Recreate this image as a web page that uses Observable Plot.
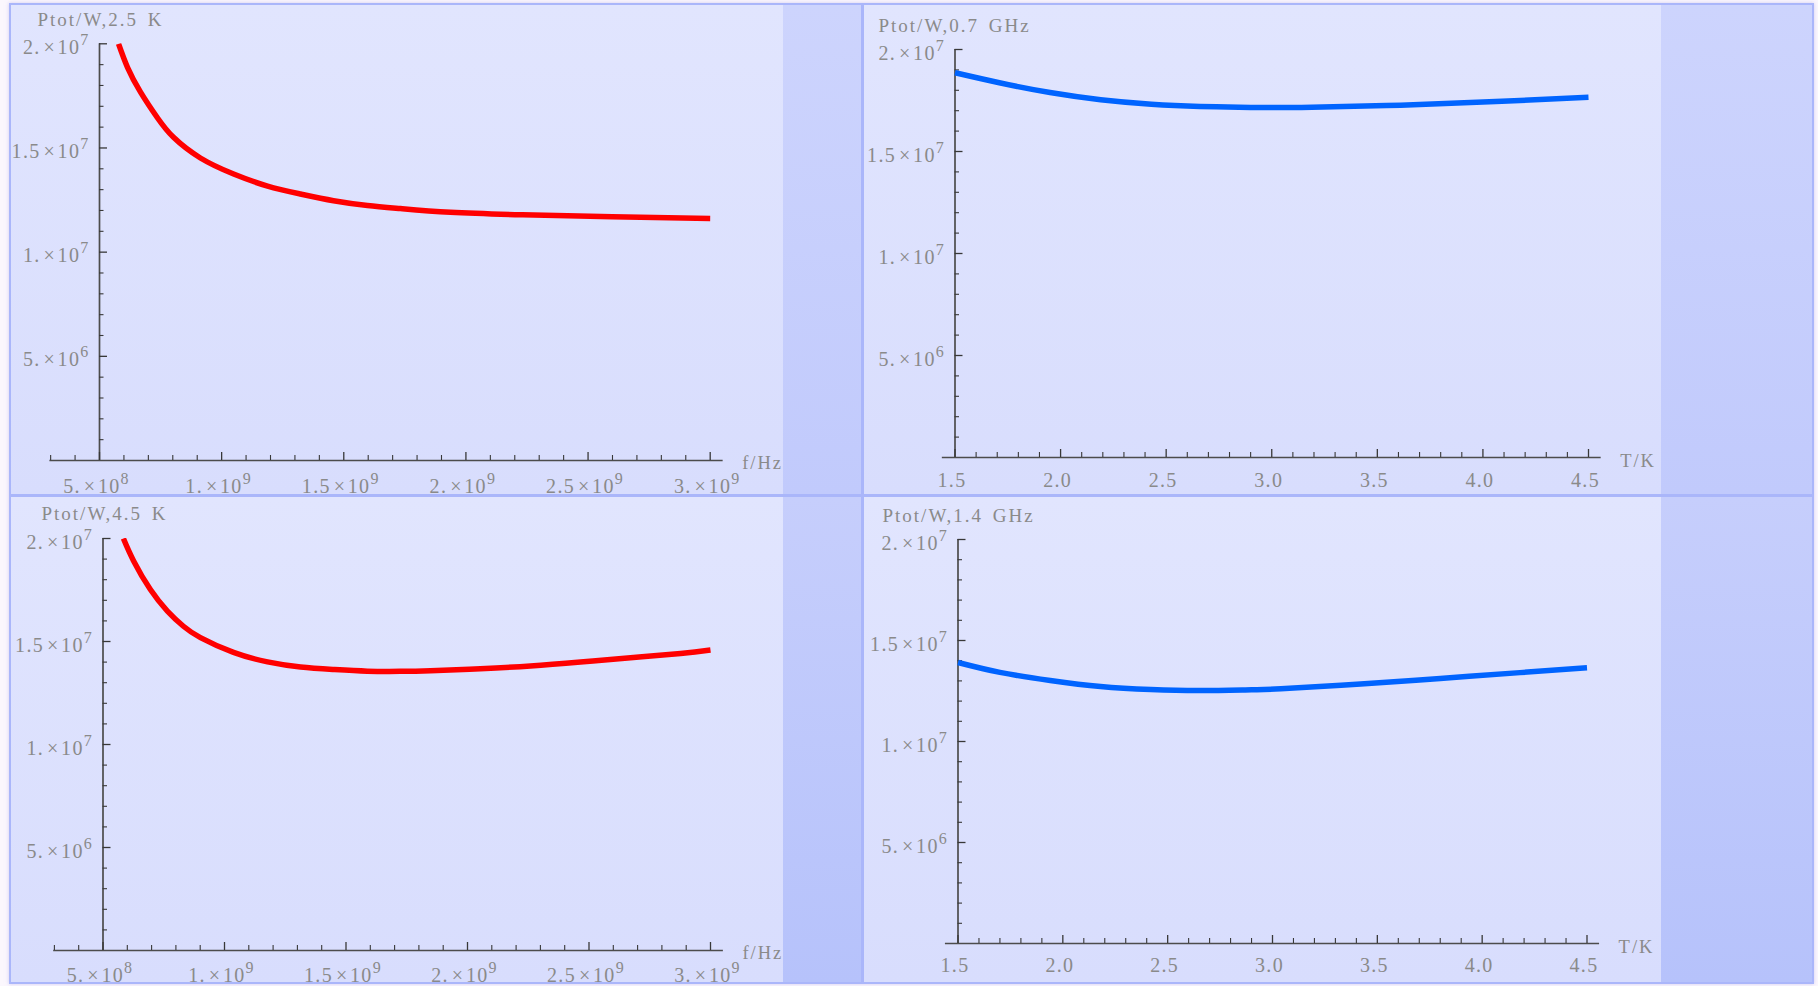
<!DOCTYPE html>
<html>
<head>
<meta charset="utf-8">
<script src="https://cdn.jsdelivr.net/npm/d3@7"></script>
<script src="https://cdn.jsdelivr.net/npm/@observablehq/plot@0.6"></script>
<style>
  html, body { margin: 0; padding: 0; background: #fbf7fd; }
  #page { position: relative; width: 1818px; height: 986px; overflow: hidden; }
  .frame { position: absolute; left: 9px; top: 3px; width: 1805px; height: 981px;
           background: #aab6fa; box-shadow: 0 0 4px rgba(175, 165, 235, 0.55); }
  .cell { position: absolute; }
  .light { background: linear-gradient(#e1e5fe, #d8ddfd); }
  .dark-top { background: linear-gradient(#cdd4fd, #c1cafc); }
  .dark-bottom { background: linear-gradient(#c6cefc, #b6c2fb); }
  .panel { position: absolute; }
  .panel svg { overflow: visible; display: block; }
  .panel text { letter-spacing: 1.3px; }
</style>
</head>
<body>
<div id="page">
  <div class="frame"></div>
  <div class="cell light" style="left:11px;top:5px;width:772px;height:489px"></div>
  <div class="cell dark-top" style="left:783px;top:5px;width:78px;height:489px"></div>
  <div class="cell light" style="left:864px;top:5px;width:797px;height:489px"></div>
  <div class="cell dark-top" style="left:1661px;top:5px;width:151px;height:489px"></div>
  <div class="cell light" style="left:11px;top:497px;width:772px;height:485px"></div>
  <div class="cell dark-bottom" style="left:783px;top:497px;width:78px;height:485px"></div>
  <div class="cell light" style="left:864px;top:497px;width:797px;height:485px"></div>
  <div class="cell dark-bottom" style="left:1661px;top:497px;width:151px;height:485px"></div>
</div>
<script>
// ---------- tick values and labels ----------
const freqTicks = [5e8, 1e9, 1.5e9, 2e9, 2.5e9, 3e9];
const freqTickLabels = ["5.×10^8", "1.×10^9", "1.5×10^9", "2.×10^9", "2.5×10^9", "3.×10^9"];
const tempTicks = [1.5, 2.0, 2.5, 3.0, 3.5, 4.0, 4.5];
const tempTickLabels = ["1.5", "2.0", "2.5", "3.0", "3.5", "4.0", "4.5"];
const powerTicks = [5e6, 1e7, 1.5e7, 2e7];
const powerTickLabels = ["5.×10^6", "1.×10^7", "1.5×10^7", "2.×10^7"];

const panelTitles = ["Ptot/W,2.5 K", "Ptot/W,0.7 GHz", "Ptot/W,4.5 K", "Ptot/W,1.4 GHz"];
const freqAxisName = "f/Hz";
const tempAxisName = "T/K";

// ---------- series ----------
// total power vs frequency at 2.5 K
const freq25K  = [5.78e8, 6.15e8, 6.68e8, 7.37e8, 8.03e8, 9.13e8, 1.049e9, 1.188e9, 1.323e9, 1.458e9, 1.597e9, 1.732e9, 1.937e9, 2.232e9, 2.6e9, 3.0e9];
const power25K = [2.0e7, 1.886e7, 1.768e7, 1.645e7, 1.551e7, 1.452e7, 1.375e7, 1.317e7, 1.279e7, 1.247e7, 1.224e7, 1.209e7, 1.191e7, 1.179e7, 1.1695e7, 1.162e7];

// total power vs frequency at 4.5 K
const freq45K  = [5.84e8, 6.26e8, 6.95e8, 7.65e8, 8.31e8, 9.01e8, 1.037e9, 1.177e9, 1.313e9, 1.449e9, 1.588e9, 1.724e9, 1.848e9, 2.053e9, 2.259e9, 2.465e9, 2.671e9, 2.877e9, 3.0e9];
const power45K = [2.0e7, 1.891e7, 1.752e7, 1.648e7, 1.574e7, 1.519e7, 1.447e7, 1.401e7, 1.376e7, 1.364e7, 1.356e7, 1.355e7, 1.358e7, 1.368e7, 1.381e7, 1.400e7, 1.421e7, 1.442e7, 1.459e7];

// total power vs temperature at 0.7 GHz
const temp07GHz  = [1.5, 1.71, 1.95, 2.19, 2.43, 2.66, 2.9, 3.14, 3.61, 4.09, 4.5];
const power07GHz = [1.886e7, 1.837e7, 1.789e7, 1.754e7, 1.732e7, 1.721e7, 1.716e7, 1.716e7, 1.727e7, 1.746e7, 1.766e7];

// total power vs temperature at 1.4 GHz
const temp14GHz  = [1.5, 1.70, 1.94, 2.18, 2.42, 2.66, 2.90, 3.04, 3.42, 3.80, 4.18, 4.5];
const power14GHz = [1.391e7, 1.342e7, 1.302e7, 1.272e7, 1.257e7, 1.252e7, 1.256e7, 1.261e7, 1.285e7, 1.312e7, 1.341e7, 1.365e7];

// ---------- styling ----------
const FONT = "'Liberation Serif', 'Times New Roman', serif";
const TEXT = "#8a8a8a";
const AXIS = "#4c4c4c";
const TICK = "#383838";
const RED = "#ff0000";
const BLUE = "#0064ff";

const freqMinor = d3.range(3, 31).filter(k => k % 5 !== 0).map(k => k * 1e8);
const tempMinor = d3.range(15, 46).filter(k => k % 5 !== 0).map(k => k / 10);
const powerMinor = d3.range(1, 20).filter(k => k % 5 !== 0).map(k => k * 1e6);

const toPoints = (xs, ys) => xs.map((x, i) => ({x, y: ys[i]}));

// turn "a×10^n" labels into mantissa, ×10 and a raised exponent
function typeset(svg) {
  const ns = "http://www.w3.org/2000/svg";
  svg.querySelectorAll("text").forEach(t => {
    const s = t.textContent;
    const m = s.match(/^(.*?)×10\^(\d+)$/);
    if (m) {
      t.textContent = "";
      const a = document.createElementNS(ns, "tspan");
      a.textContent = m[1];
      const b = document.createElementNS(ns, "tspan");
      b.setAttribute("dx", "3");
      b.textContent = "×";
      const c = document.createElementNS(ns, "tspan");
      c.setAttribute("dx", "1.5");
      c.textContent = "10";
      const e = document.createElementNS(ns, "tspan");
      e.setAttribute("dy", "-9");
      e.setAttribute("font-size", "16");
      e.textContent = m[2];
      t.append(a, b, c, e);
    } else if (s.startsWith("Ptot") || s === freqAxisName || s === tempAxisName) {
      t.style.letterSpacing = "2px";
      t.style.wordSpacing = "3px";
    }
  });
}

function drawPanel(p) {
  const {box, xDomain, xAt, yAt, originX, xMajor, xMajorLabels, xMinor, xName, title, series, color} = p;
  const kx = (xAt[1][1] - xAt[0][1]) / (xAt[1][0] - xAt[0][0]);
  const px = v => xAt[0][1] + (v - xAt[0][0]) * kx;
  const x0 = px(xDomain[0]), x1 = px(xDomain[1]);
  const [yTop, yBot] = yAt;
  const xPerPx = 1 / kx;
  const yPerPx = 2e7 / (yBot - yTop);

  const svg = Plot.plot({
    width: box.width,
    height: box.height,
    marginLeft: x0 - box.left,
    marginRight: box.left + box.width - x1,
    marginTop: yTop - box.top,
    marginBottom: box.top + box.height - yBot,
    x: {domain: xDomain, axis: null},
    y: {domain: [0, 2e7], axis: null},
    style: {background: "transparent", fontFamily: FONT, overflow: "visible"},
    marks: [
      // axes crossing at (originX, 0)
      Plot.ruleY([0], {x1: xDomain[0], x2: xDomain[1], stroke: AXIS, strokeWidth: 1.6}),
      Plot.ruleX([originX], {y1: 0, y2: 2e7, stroke: AXIS, strokeWidth: 1.7}),
      // inward ticks
      Plot.ruleX(xMinor, {x: d => d, y1: 0, y2: 5 * yPerPx, stroke: TICK, strokeWidth: 1.1}),
      Plot.ruleX(xMajor, {x: d => d, y1: 0, y2: 8 * yPerPx, stroke: TICK, strokeWidth: 1.3}),
      Plot.ruleY(powerMinor, {y: d => d, x1: originX, x2: originX + 4.5 * xPerPx, stroke: TICK, strokeWidth: 1.1}),
      Plot.ruleY(powerTicks, {y: d => d, x1: originX, x2: originX + 8 * xPerPx, stroke: TICK, strokeWidth: 1.3}),
      // the curve
      Plot.line(series, {x: "x", y: "y", stroke: color, strokeWidth: p.lineWidth, curve: "natural",
                         strokeLinecap: "butt", strokeLinejoin: "round", clip: true}),
      // tick labels
      Plot.text(xMajor, {x: d => d, y: 0, text: (d, i) => xMajorLabels[i], lineAnchor: "bottom",
                         dx: -3, dy: p.xLabelDy, fill: TEXT, fontSize: 20}),
      Plot.text(powerTicks, {x: originX, y: d => d, text: (d, i) => powerTickLabels[i], textAnchor: "end",
                             lineAnchor: "bottom", dx: -10, dy: 10, fill: TEXT, fontSize: 20}),
      // axis names
      Plot.text([xName], {x: xDomain[1], y: 0, text: d => d, textAnchor: "start", lineAnchor: "bottom",
                          dx: 19, dy: p.nameDy, fill: TEXT, fontSize: 18.5}),
      Plot.text([title], {x: originX, y: 2e7, text: d => d, textAnchor: "start", lineAnchor: "bottom",
                          dx: p.titleDx, dy: p.titleDy, fill: TEXT, fontSize: 19})
    ]
  });
  typeset(svg);
  const wrap = document.createElement("div");
  wrap.className = "panel";
  wrap.style.left = box.left + "px";
  wrap.style.top = box.top + "px";
  wrap.appendChild(svg);
  document.getElementById("page").appendChild(wrap);
}

const freqDomain = [2.97e8, 3.053e9];
const tempDomain = [1.44, 4.56];

drawPanel({
  box: {left: 10, top: 5, width: 852, height: 490},
  xDomain: freqDomain, xAt: [[5e8, 99], [3e9, 709.7]], yAt: [43.3, 460], originX: 5e8,
  xMajor: freqTicks, xMajorLabels: freqTickLabels, xMinor: freqMinor, xName: freqAxisName,
  title: panelTitles[0], series: toPoints(freq25K, power25K), color: RED, lineWidth: 5.5,
  xLabelDy: 32, nameDy: 8, titleDx: -62, titleDy: -17.5
});
drawPanel({
  box: {left: 863, top: 5, width: 950, height: 490},
  xDomain: tempDomain, xAt: [[1.5, 954.5], [4.5, 1588]], yAt: [49, 457], originX: 1.5,
  xMajor: tempTicks, xMajorLabels: tempTickLabels, xMinor: tempMinor, xName: tempAxisName,
  title: panelTitles[1], series: toPoints(temp07GHz, power07GHz), color: BLUE, lineWidth: 5.5,
  xLabelDy: 29.5, nameDy: 9, titleDx: -76.5, titleDy: -18
});
drawPanel({
  box: {left: 10, top: 496, width: 852, height: 488},
  xDomain: freqDomain, xAt: [[5e8, 102.5], [3e9, 710]], yAt: [538, 950], originX: 5e8,
  xMajor: freqTicks, xMajorLabels: freqTickLabels, xMinor: freqMinor, xName: freqAxisName,
  title: panelTitles[2], series: toPoints(freq45K, power45K), color: RED, lineWidth: 5.5,
  xLabelDy: 31.5, nameDy: 8, titleDx: -61.5, titleDy: -19
});
drawPanel({
  box: {left: 863, top: 496, width: 950, height: 488},
  xDomain: tempDomain, xAt: [[1.5, 957.5], [4.5, 1586.5]], yAt: [539, 943], originX: 1.5,
  xMajor: tempTicks, xMajorLabels: tempTickLabels, xMinor: tempMinor, xName: tempAxisName,
  title: panelTitles[3], series: toPoints(temp14GHz, power14GHz), color: BLUE, lineWidth: 5.5,
  xLabelDy: 28.5, nameDy: 9, titleDx: -75.5, titleDy: -18
});
</script>
</body>
</html>
